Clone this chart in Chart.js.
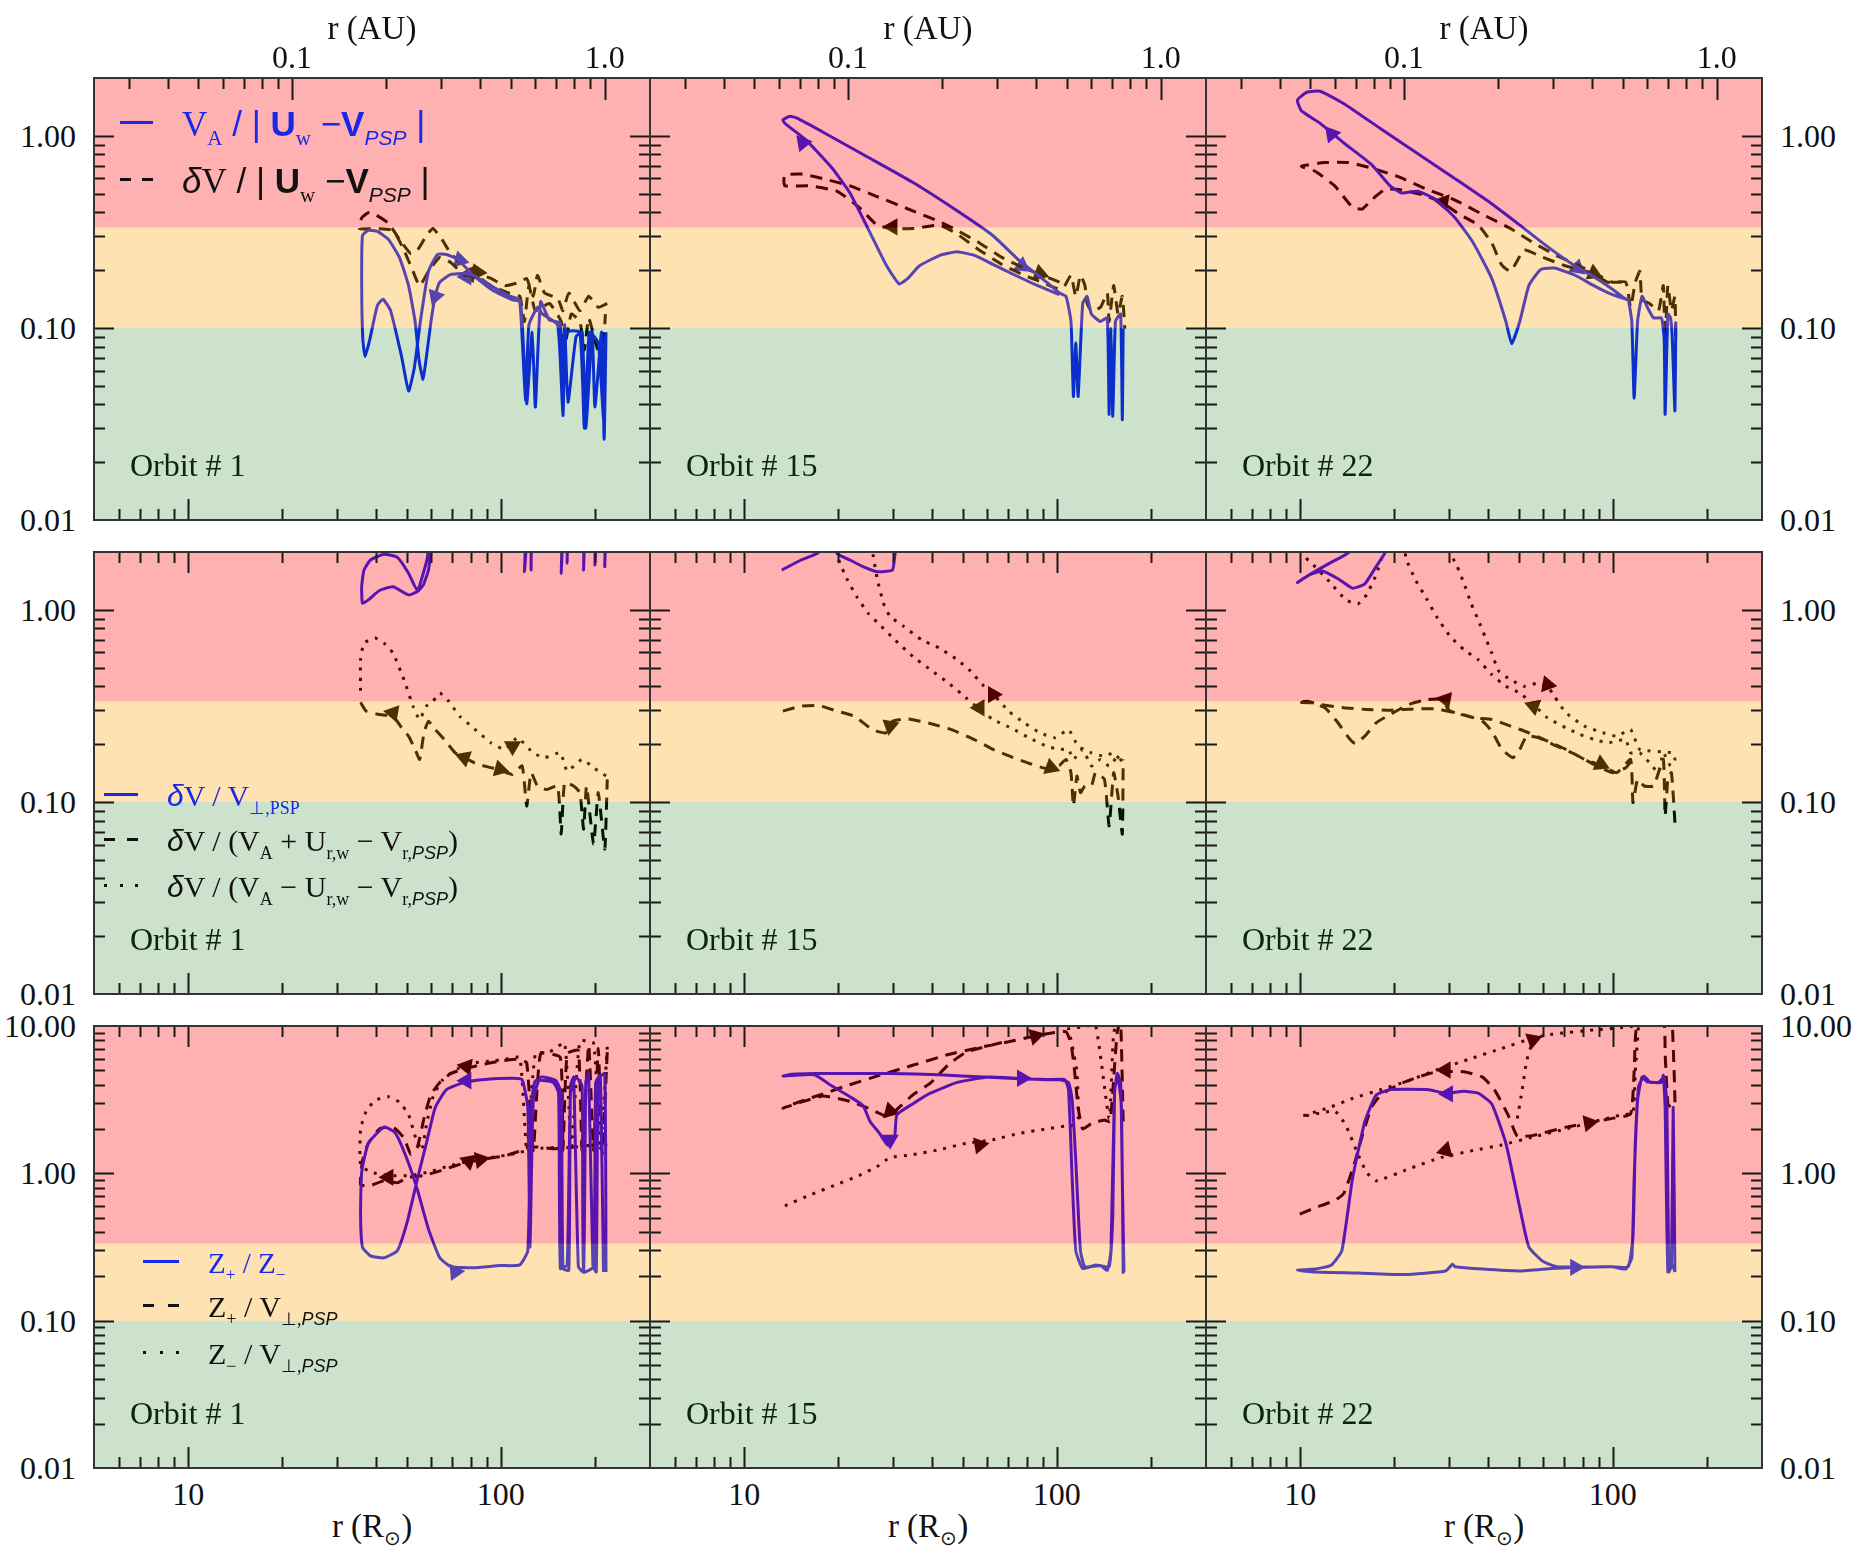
<!DOCTYPE html>
<html lang="en">
<head>
<meta charset="utf-8">
<title>PSP orbits: velocity ratios</title>
<script src="https://cdn.jsdelivr.net/npm/chart.js@4.4.0/dist/chart.umd.min.js"></script>
<style>
  html, body { margin: 0; padding: 0; background: #fff; }
  #page { position: relative; width: 1875px; height: 1563px; overflow: hidden; }
  #page canvas { position: absolute; }
  .lbl { position: absolute; white-space: nowrap; font-family: "Liberation Serif", serif; font-size: 32px; color: #111; line-height: 1; }
  .ss { font-family: "Liberation Sans", "DejaVu Sans", sans-serif; }
  sub { font-size: 0.6em; vertical-align: -0.45em; line-height: 0; }
  .sw { position: absolute; }
</style>
</head>
<body>
<div id="page"></div>
<script>
// ---------- data : [r (R_sun), ratio] ----------
// Row 1 : V_A/|U_w - V_PSP| (solid) and dV/|U_w - V_PSP| (dashed)
const orb1VaRatio = [[217,0.095],[214,0.0263],[210,0.095],[200,0.0387],[196,0.095],[187,0.030],[182,0.095],[174,0.090],[164,0.041],[160,0.104],[158,0.035],[155,0.106],[143,0.110],[134,0.137],[129,0.0387],[126,0.095],[121,0.0403],[117,0.108],[115,0.140],[106,0.147],[93,0.166],[81.6,0.188],[76.4,0.192],[69.2,0.190],[63.8,0.173],[61.7,0.146],[59.8,0.108],[57.8,0.0704],[56.4,0.0541],[54.8,0.0675],[53.2,0.108],[50.7,0.166],[47.4,0.233],[43.7,0.289],[40.3,0.318],[37.7,0.322],[36.1,0.302],[35.9,0.166],[36.2,0.087],[36.8,0.071],[38.1,0.087],[40.3,0.131],[42.0,0.141],[44.4,0.123],[48.2,0.0704],[50.7,0.0469],[52.9,0.062],[55.3,0.108],[58.7,0.197],[62.7,0.241],[67.0,0.241],[72.7,0.228],[81.6,0.188],[93.0,0.159],[109,0.140],[115,0.137],[120,0.0421],[123,0.1035],[131,0.128],[136,0.118],[152,0.1035],[158,0.035],[162,0.095],[179,0.095],[185,0.030],[192,0.095],[205,0.0835],[213,0.034],[216,0.091]];
const orb1DvRatio = [[219,0.134],[205,0.128],[191,0.146],[179,0.123],[165,0.152],[158,0.123],[152,0.1426],[138,0.152],[131,0.188],[127,0.146],[121,0.181],[115,0.173],[103,0.166],[93.0,0.181],[84.3,0.192],[76.4,0.210],[69.2,0.244],[64.8,0.289],[60.7,0.329],[57.8,0.302],[54.1,0.254],[51.5,0.244],[47.4,0.289],[43.7,0.351],[39.6,0.390],[37.7,0.398],[35.9,0.374],[35.3,0.329],[39.6,0.329],[45.2,0.322],[49.0,0.254],[52.4,0.197],[55.0,0.166],[58.7,0.197],[63.8,0.233],[69.2,0.219],[76.4,0.188],[84.3,0.1845],[93.0,0.166],[106,0.152],[115,0.146],[119,0.108],[123,0.166],[129,0.123],[143,0.134],[156,0.108],[160,0.080],[168,0.118],[179,0.108],[185,0.0767],[191,0.1127],[201,0.0835],[211,0.0675],[216,0.118]];
const orb15VaRatio = [[102,0.149],[86.8,0.166],[73.6,0.188],[62.5,0.214],[54.8,0.238],[48.0,0.249],[42.1,0.238],[36.3,0.210],[33.4,0.181],[31.3,0.1694],[28.4,0.214],[24.9,0.329],[21.8,0.504],[19.1,0.680],[15.7,0.958],[13.5,1.161],[13.3,1.212],[14.0,1.265],[14.7,1.239],[17.9,1.044],[24.9,0.774],[34.6,0.573],[48.0,0.407],[62.5,0.302],[76.0,0.2236],[82.6,0.201],[92.7,0.173],[102,0.152],[107,0.146],[111,0.108],[113,0.044],[115,0.0835],[117,0.044],[121,0.134],[125,0.146],[129,0.118],[138,0.108],[145,0.1127],[147,0.0355],[149,0.0991],[151,0.0347],[154,0.108],[160,0.118],[162,0.0333],[163,0.0991]];
const orb15DvRatio = [[102,0.173],[89.7,0.188],[78.6,0.205],[66.7,0.233],[56.6,0.277],[48.0,0.322],[42.1,0.358],[34.6,0.407],[26.6,0.483],[21.8,0.549],[17.9,0.598],[15.2,0.633],[13.5,0.625],[13.4,0.586],[13.5,0.549],[16.2,0.549],[19.8,0.515],[23.3,0.425],[26.6,0.343],[29.8,0.329],[34.6,0.329],[42.1,0.343],[48.0,0.308],[56.6,0.254],[66.7,0.214],[78.6,0.188],[89.7,0.173],[102,0.159],[106,0.166],[111,0.188],[115,0.146],[119,0.188],[123,0.166],[125,0.134],[129,0.123],[138,0.128],[145,0.152],[147,0.108],[152,0.166],[157,0.118],[162,0.146],[165,0.0991]];
const orb22VaRatio = [[112,0.140],[99.7,0.149],[86.9,0.166],[75.8,0.188],[65.0,0.205],[58.7,0.201],[53.9,0.166],[50.4,0.108],[47.5,0.0828],[45.5,0.108],[41.0,0.181],[35.8,0.277],[31.3,0.374],[27.3,0.463],[23.8,0.515],[21.1,0.504],[19.4,0.549],[16.9,0.710],[13.8,0.918],[11.6,1.161],[10.1,1.349],[9.80,1.534],[10.5,1.686],[11.6,1.707],[13.8,1.470],[18.1,1.089],[23.8,0.807],[31.3,0.598],[41.0,0.443],[50.4,0.343],[61.8,0.265],[75.8,0.210],[86.9,0.1845],[99.7,0.159],[109,0.1426],[112,0.140],[115,0.108],[117,0.043],[120,0.108],[124,0.146],[129,0.128],[135,0.1127],[143,0.1127],[146,0.0872],[147,0.0355],[150,0.118],[153,0.1127],[155,0.0872],[158,0.037],[159,0.108]];
const orb22DvRatio = [[107,0.173],[99.7,0.173],[89.9,0.188],[78.5,0.210],[66.2,0.238],[55.8,0.277],[47.1,0.329],[38.3,0.390],[31.3,0.463],[25.5,0.526],[20.7,0.611],[16.9,0.680],[14.3,0.726],[12.0,0.726],[10.1,0.695],[11.2,0.652],[12.9,0.549],[14.7,0.425],[15.8,0.416],[16.9,0.463],[18.7,0.526],[20.7,0.526],[24.6,0.494],[28.2,0.453],[32.3,0.390],[37.1,0.343],[41.0,0.277],[44.0,0.214],[47.1,0.197],[52.1,0.254],[59.7,0.233],[70.8,0.210],[86.9,0.192],[96.3,0.173],[110,0.173],[114,0.128],[118,0.173],[122,0.197],[124,0.140],[131,0.134],[140,0.123],[145,0.166],[147,0.0872],[150,0.166],[154,0.123],[158,0.146],[159,0.0835]];

// Row 2 : dV/V_perp (solid), dV/(V_A+U-V) (dashed), dV/(V_A-U-V) (dotted)
const orb1DvPerp = [[61.1,2.6],[58.7,1.61],[56.5,1.348],[54.1,1.245],[50.7,1.196],[45.2,1.32],[40.9,1.26],[37.7,1.127],[36.1,1.083],[35.9,1.32],[36.5,1.61],[38.3,1.817],[42.3,1.945],[46.7,1.876],[50.7,1.55],[54.1,1.26],[56.5,1.55],[58.3,1.89],[59.7,2.6],[119,3],[119,1.58],[121,3],[125,3],[125,1.61],[127,3],[156,3],[156,1.55],[158,3],[163,3],[163,1.75],[165,3],[184,3],[184,1.61],[186,3],[200,3],[200,1.71],[202,3],[215,3],[215,1.68],[217,3]];
const orb1DvPlus = [[35.6,0.330],[37.1,0.297],[40.9,0.285],[45.2,0.2795],[48.2,0.243],[50.7,0.220],[53.2,0.1876],[55.0,0.1665],[56.8,0.229],[58.7,0.263],[61.7,0.238],[65.9,0.2115],[71.5,0.180],[76.4,0.170],[84.3,0.157],[93.0,0.1508],[101,0.1449],[109,0.139],[117,0.1538],[121,0.0953],[125,0.142],[131,0.121],[140,0.116],[152,0.121],[156,0.068],[160,0.126],[171,0.121],[179,0.1118],[184,0.0721],[188,0.121],[198,0.0603],[205,0.1118],[215,0.0568],[219,0.131]];
const orb1DvMinus = [[217,0.1364],[198,0.1508],[182,0.1665],[163,0.1449],[155,0.180],[138,0.170],[127,0.180],[113,0.216],[103,0.1876],[93.0,0.203],[81.6,0.243],[73.9,0.2795],[68.1,0.334],[63.8,0.369],[60.7,0.334],[57.8,0.315],[55.0,0.2685],[52.4,0.315],[49.0,0.433],[45.2,0.596],[42.3,0.671],[39.6,0.713],[36.5,0.671],[35.6,0.550],[35.6,0.369]];
const orb15DvPerp = [[13.2,1.61],[15.2,1.817],[17.3,1.99],[18.5,2.6],[19.4,2.6],[19.8,1.97],[21.8,1.817],[24.0,1.68],[26.6,1.58],[29.8,1.61],[30.3,1.89],[31.1,2.6]];
const orb15DvPlus = [[13.3,0.297],[15.2,0.315],[17.3,0.3175],[19.8,0.297],[22.5,0.2795],[25.7,0.238],[28.4,0.229],[29.8,0.263],[33.4,0.2707],[39.4,0.256],[46.5,0.2365],[54.8,0.21],[62.5,0.1876],[71.3,0.172],[81.3,0.159],[92.7,0.149],[102,0.155],[107,0.1665],[111,0.142],[113,0.0953],[116,0.1364],[119,0.1118],[123,0.121],[129,0.121],[133,0.142],[142,0.131],[147,0.075],[152,0.142],[157,0.107],[162,0.068],[163,0.1665]];
const orb15DvMinus = [[19.6,2.6],[20.1,1.817],[21.4,1.43],[22.9,1.173],[24.9,0.961],[27.5,0.819],[30.3,0.699],[34.6,0.573],[39.4,0.488],[45.0,0.416],[51.3,0.348],[56.6,0.303],[62.5,0.2685],[71.3,0.243],[81.3,0.216],[92.7,0.195],[102,0.1876],[109,0.1876],[113,0.1665],[121,0.1876],[129,0.1538],[138,0.1665],[147,0.1538],[157,0.173],[162,0.160],[152,0.180],[142,0.173],[129,0.180],[117,0.195],[109,0.238],[99.0,0.216],[88.3,0.229],[78.6,0.258],[70.1,0.297],[63.5,0.355],[58.5,0.400],[53.0,0.479],[48.0,0.550],[42.1,0.632],[36.9,0.699],[32.4,0.819],[29.3,0.923],[27.9,1.083],[26.7,1.43],[25.9,1.89],[25.3,2.6]];
const orb22DvPerp = [[15.5,2.6],[14.3,1.99],[12.4,1.746],[10.9,1.55],[9.80,1.386],[10.7,1.52],[11.8,1.594],[13.3,1.443],[14.7,1.296],[16.1,1.365],[17.5,1.68],[18.7,1.99],[19.4,2.6]];
const orb22DvPlus = [[158,0.0781],[154,0.142],[150,0.131],[147,0.0846],[145,0.1665],[135,0.121],[126,0.121],[120,0.131],[116,0.0992],[114,0.1665],[103,0.142],[93.1,0.1538],[81.2,0.1665],[70.8,0.1876],[61.8,0.207],[53.9,0.229],[47.1,0.248],[41.0,0.2685],[35.8,0.274],[31.3,0.291],[27.3,0.305],[23.0,0.305],[19.4,0.300],[16.3,0.303],[13.8,0.309],[11.6,0.321],[10.5,0.334],[9.80,0.330],[10.9,0.328],[12.0,0.309],[13.1,0.263],[14.3,0.216],[15.0,0.2016],[16.1,0.220],[17.5,0.258],[19.4,0.285],[22.2,0.321],[25.5,0.341],[28.2,0.341],[30.2,0.297],[34.6,0.2795],[38.3,0.263],[41.0,0.2335],[44.2,0.1876],[47.9,0.170],[50.4,0.1876],[53.0,0.220],[57.7,0.216],[66.2,0.195],[75.8,0.177],[86.9,0.157],[99.7,0.142],[110,0.1508],[116,0.1665]];
const orb22DvMinus = [[9.97,2.6],[10.1,1.97],[10.9,1.746],[12.4,1.403],[14.0,1.127],[15.3,1.074],[16.3,1.196],[17.5,1.52],[18.4,1.97],[19.1,2.6],[21.3,2.6],[21.8,1.855],[23.4,1.43],[25.5,1.127],[27.3,0.923],[30.2,0.727],[33.4,0.620],[37.1,0.550],[41.0,0.460],[45.5,0.400],[50.4,0.369],[55.8,0.321],[61.8,0.274],[70.8,0.243],[78.5,0.2245],[86.9,0.2115],[96.3,0.203],[103,0.207],[110,0.2115],[114,0.180],[122,0.180],[131,0.160],[140,0.142],[145,0.180],[153,0.1538],[158,0.1665],[155,0.180],[122,0.1876],[114,0.238],[103,0.220],[93.1,0.229],[81.2,0.248],[70.8,0.291],[65.0,0.355],[61.8,0.400],[57.7,0.416],[52.1,0.400],[47.1,0.433],[43.2,0.479],[41.0,0.596],[39.0,0.727],[37.1,0.887],[35.2,1.083],[33.4,1.375],[31.8,1.68],[30.7,1.89],[30.2,2.6]];

// Row 3 : Z+/Z- (solid), Z+/V_perp (dashed), Z-/V_perp (dotted)
const orb1ZpZm = [[217,0.214],[215,4.76],[205,4.37],[202,0.214],[197,0.239],[191,4.76],[187,4.14],[184,0.214],[177,0.2325],[171,4.50],[167,3.91],[165,0.2198],[158,0.226],[156,3.50],[150,4.25],[134,4.50],[127,3.13],[124,0.316],[122,2.80],[117,4.32],[109,4.42],[87.1,4.32],[76.4,4.14],[67.0,3.70],[61.7,2.80],[57.8,1.60],[54.1,0.915],[50.2,0.468],[46.7,0.299],[42.3,0.267],[38.3,0.275],[36.1,0.316],[35.6,0.523],[35.9,1.02],[37.7,1.60],[42.3,2.06],[45.9,1.89],[49.9,1.28],[54.1,0.773],[58.7,0.418],[63.8,0.267],[69.2,0.2325],[81.6,0.2286],[99.3,0.2365],[115,0.239],[122,0.299],[125,2.80],[129,4.25],[147,4.14],[153,3.50],[155,0.226],[163,0.239],[167,3.50],[174,4.50],[182,3.91],[184,0.214],[198,0.2325],[201,4.14],[208,4.62],[213,0.214]];
const orb1ZpPerp = [[219,6.65],[211,1.35],[205,7.03],[198,1.43],[191,7.43],[182,1.43],[177,6.84],[163,6.47],[158,1.43],[155,6.11],[134,6.47],[127,1.43],[121,5.62],[113,5.94],[99.3,5.78],[87.1,5.47],[77.6,5.17],[69.2,4.76],[63.8,4.14],[59.7,3.40],[56.8,2.36],[54.1,1.51],[51.5,1.35],[49.0,1.74],[45.2,2.06],[40.9,2.00],[37.7,1.60],[36.1,1.21],[35.6,0.841],[37.7,0.818],[42.3,0.889],[46.7,0.865],[50.7,0.94],[56.8,0.967],[64.8,1.05],[76.4,1.176],[90.0,1.257],[103,1.315],[117,1.43],[129,1.51],[147,1.47],[174,1.51],[198,1.555],[219,1.555]];
const orb1ZmPerp = [[219,7.23],[208,1.43],[198,7.65],[179,7.87],[168,1.51],[160,7.65],[143,6.65],[129,6.47],[121,1.43],[115,6.11],[103,5.94],[93.0,5.78],[81.6,5.62],[71.5,5.03],[64.8,4.25],[60.7,3.31],[57.8,2.12],[55.9,1.43],[53.2,1.79],[50.7,2.50],[47.4,3.04],[43.7,3.31],[39.6,3.13],[37.1,2.64],[35.6,2.00],[35.6,1.14],[38.3,1.02],[43.7,0.967],[51.5,0.967],[58.7,1.02],[67.0,1.11],[78.9,1.21],[93.0,1.28],[109,1.35],[129,1.47],[157,1.51],[179,1.555],[205,1.555],[219,1.60]];
const orb15ZpZm = [[163,0.208],[161,2.80],[157,4.50],[153,3.70],[149,0.299],[145,0.2198],[138,0.2365],[123,0.2325],[119,0.299],[115,1.21],[112,3.13],[109,4.14],[102,4.32],[81.3,4.37],[60.4,4.50],[48.0,4.14],[39.4,3.50],[34.6,2.96],[30.8,2.50],[30.3,1.79],[28.8,1.555],[27.0,1.89],[25.3,2.24],[24.0,2.88],[21.8,3.31],[19.1,3.91],[16.8,4.67],[14.2,4.62],[13.3,4.57],[14.2,4.70],[16.8,4.76],[21.8,4.76],[29.3,4.76],[42.1,4.67],[58.5,4.50],[78.6,4.37],[92.7,4.32],[106,4.32],[109,3.70],[112,0.915],[115,0.299],[121,0.226],[133,0.239],[147,0.2325],[151,0.523],[153,3.50],[156,4.76],[160,4.14],[162,0.915],[164,0.214]];
const orb15ZpPerp = [[66.7,7.73],[51.3,6.65],[45.0,5.47],[39.4,4.09],[34.6,3.40],[31.3,2.80],[28.8,2.43],[24.9,2.77],[21.8,3.08],[17.9,3.35],[15.2,3.04],[13.3,2.77],[15.2,3.09],[17.9,3.46],[21.1,3.91],[26.6,4.57],[34.6,5.41],[45.0,6.40],[56.6,7.15],[71.3,7.87],[85.3,8.55],[99.0,9.04],[107,9.15],[111,7.65],[114,4.89],[117,2.80],[121,2.00],[129,2.18],[142,2.30],[148,2.24],[152,4.37],[156,9.04],[160,10.6],[163,2.24]];
const orb15ZmPerp = [[13.5,0.601],[16.2,0.711],[19.8,0.841],[23.3,0.967],[26.6,1.11],[29.3,1.28],[34.6,1.337],[42.1,1.446],[51.3,1.60],[62.5,1.69],[76.0,1.87],[92.7,2.00],[106,2.09],[113,2.12],[117,2.36],[116,4.89],[111,8.09],[109,9.56],[121,9.84],[133,10.1],[147,2.36],[152,9.04],[157,10.6]];
const orb22ZpZm = [[158,0.214],[156,2.80],[154,0.239],[151,0.214],[149,2.80],[146,4.50],[140,4.14],[131,4.18],[126,4.57],[121,3.91],[118,1.60],[116,0.374],[112,0.2325],[99.7,0.2325],[86.9,0.2313],[66.2,0.2325],[59.7,0.253],[53.9,0.316],[50.4,0.585],[45.5,1.60],[41.0,2.96],[37.1,3.50],[33.4,3.60],[29.2,3.50],[25.5,3.70],[19.4,3.70],[17.5,3.40],[16.1,2.24],[14.7,0.915],[13.6,0.299],[12.6,0.239],[11.2,0.224],[9.80,0.2198],[11.2,0.2138],[15.3,0.2104],[21.5,0.2056],[29.2,0.2175],[30.7,0.2416],[31.3,0.2325],[38.3,0.224],[50.4,0.2175],[64.0,0.226],[75.8,0.230],[99.7,0.2325],[110,0.224],[115,0.267],[117,0.915],[120,3.13],[124,4.50],[129,4.18],[143,4.14],[145,4.62],[147,2.80],[150,0.214],[155,0.239],[158,0.214]];
const orb22ZpPerp = [[9.97,0.529],[11.2,0.585],[12.9,0.654],[13.8,0.731],[15.0,1.21],[15.8,1.79],[16.9,2.80],[18.1,3.40],[20.7,4.02],[23.8,4.50],[27.3,4.89],[33.4,4.89],[38.3,4.50],[41.8,3.70],[46.2,2.50],[49.5,1.79],[55.8,1.81],[70.8,2.06],[83.9,2.20],[99.7,2.36],[114,2.53],[117,4.89],[120,10.6],[145,10.6],[147,6.47],[150,2.96],[154,2.80],[158,2.96],[155,10.6]];
const orb22ZmPerp = [[124,10.6],[114,9.89],[86.9,9.40],[64.0,8.79],[55.8,8.31],[44.0,7.03],[34.6,5.94],[27.3,5.03],[22.2,4.25],[18.1,3.70],[14.7,3.22],[12.4,2.80],[10.1,2.43],[12.9,2.64],[14.0,2.12],[15.3,1.35],[16.3,1.02],[17.5,0.889],[22.2,1.07],[28.2,1.28],[35.8,1.43],[44.0,1.555],[55.8,1.77],[70.8,2.00],[86.9,2.24],[107,2.50],[116,2.57],[118,4.89],[121,10.6]];
const orb22ZmBranch = [[49.5,2.36],[51.3,3.70],[53.0,5.78],[55.5,8.0]];

// direction arrows : [r, ratio, rotation deg, 'b' blue | 'k' black]
const orb1Row1Arrows = [[74.0,0.2255,105,'b'],[77.6,0.1845,270,'b'],[61.7,0.146,200,'b'],[84.3,0.195,95,'k'],[79.0,0.19,270,'k']];
const orb15Row1Arrows = [[15.4,0.918,320,'b'],[77.4,0.210,125,'b'],[29.8,0.336,270,'k'],[88.3,0.192,110,'k']];
const orb22Row1Arrows = [[12.6,1.022,320,'b'],[77.1,0.205,130,'b'],[28.7,0.453,280,'k'],[86.9,0.192,115,'k']];
const orb1Row2Arrows = [[45.2,0.291,160,'k'],[76.4,0.170,290,'k'],[99.3,0.148,105,'k'],[109,0.195,300,'k']];
const orb15Row2Arrows = [[29.3,0.249,190,'k'],[95.7,0.1508,110,'k'],[56.6,0.309,150,'k'],[62.5,0.362,330,'k']];
const orb22Row2Arrows = [[29.2,0.341,280,'k'],[91.5,0.157,115,'k'],[55.8,0.315,170,'k'],[61.8,0.408,340,'k']];
const orb1Row3Arrows = [[77.6,4.25,270,'b'],[71.5,0.214,85,'b'],[77.6,5.32,280,'k'],[43.7,0.94,150,'k'],[78.9,1.21,290,'k'],[86.0,1.24,80,'k']];
const orb15Row3Arrows = [[77.4,4.42,90,'b'],[29.3,1.69,180,'b'],[85.3,8.55,75,'k'],[29.3,2.64,225,'k'],[56.6,1.555,80,'k']];
const orb22Row3Arrows = [[29.7,3.46,270,'b'],[75.8,0.230,90,'b'],[29.2,5.03,270,'k'],[55.5,8.05,70,'k'],[83.9,2.20,80,'k'],[29.2,1.43,255,'k']];

const bandEdges = [0.01, 0.1, 1/3, 100];      // green / orange / red
const yTickVals = [0.01, 0.1, 1, 10];
const rTickVals = [10, 100];
const auTickVals = [0.1, 1.0];
const RSUN_PER_AU = 215;
const R_MIN = 5, R_MAX = 300;
const orbitNames = ['Orbit # 1', 'Orbit # 15', 'Orbit # 22'];

// ---------- layout ----------
const COLS = [94, 650, 1206];
const ROWS = [78, 552, 1026];
const PW = 556, PH = 442, PAD = 4;
const bandColors = ['rgba(0,112,0,0.2)', 'rgba(255,160,0,0.30)', 'rgba(255,0,0,0.31)'];
const BLUE = 'rgb(15,30,255)';
const page = document.getElementById('page');

const panels = [
  {row:0, col:0, ymax:2,  curves:[[orb1VaRatio,'solid'],[orb1DvRatio,'dash']], arrows:orb1Row1Arrows},
  {row:0, col:1, ymax:2,  curves:[[orb15VaRatio,'solid'],[orb15DvRatio,'dash']], arrows:orb15Row1Arrows},
  {row:0, col:2, ymax:2,  curves:[[orb22VaRatio,'solid'],[orb22DvRatio,'dash']], arrows:orb22Row1Arrows},
  {row:1, col:0, ymax:2,  curves:[[orb1DvPerp,'solid'],[orb1DvPlus,'dash'],[orb1DvMinus,'dot']], arrows:orb1Row2Arrows},
  {row:1, col:1, ymax:2,  curves:[[orb15DvPerp,'solid'],[orb15DvPlus,'dash'],[orb15DvMinus,'dot']], arrows:orb15Row2Arrows},
  {row:1, col:2, ymax:2,  curves:[[orb22DvPerp,'solid'],[orb22DvPlus,'dash'],[orb22DvMinus,'dot']], arrows:orb22Row2Arrows},
  {row:2, col:0, ymax:10, curves:[[orb1ZpZm,'solid'],[orb1ZpPerp,'dash'],[orb1ZmPerp,'dot']], arrows:orb1Row3Arrows},
  {row:2, col:1, ymax:10, curves:[[orb15ZpZm,'solid'],[orb15ZpPerp,'dash'],[orb15ZmPerp,'dot']], arrows:orb15Row3Arrows},
  {row:2, col:2, ymax:10, curves:[[orb22ZpZm,'solid'],[orb22ZpPerp,'dash'],[orb22ZmPerp,'dot'],[orb22ZmBranch,'dot']], arrows:orb22Row3Arrows}
];

function logTicks(min, max) {
  const out = [];
  for (let e = Math.floor(Math.log10(min)); e <= Math.ceil(Math.log10(max)); e++) {
    for (let k = 1; k <= 9; k++) {
      const v = k * Math.pow(10, e);
      if (v > min * 1.001 && v < max * 0.999) out.push({v: v, major: k === 1});
    }
  }
  return out;
}

// bands over the curves, then ticks and frame
const framePlugin = {
  id: 'frame',
  afterDatasetsDraw(chart, args, opts) {
    const ctx = chart.ctx, a = chart.chartArea, x = chart.scales.x, y = chart.scales.y;
    ctx.save();
    for (let i = 0; i < 3; i++) {
      const top = y.getPixelForValue(Math.min(bandEdges[i + 1], y.max));
      const bot = y.getPixelForValue(bandEdges[i]);
      ctx.fillStyle = bandColors[i];
      ctx.fillRect(a.left, top, a.right - a.left, bot - top);
    }
    ctx.strokeStyle = '#1a1a1a';
    ctx.lineWidth = 2;
    ctx.beginPath();
    for (const t of logTicks(y.min, y.max)) {
      const py = Math.round(y.getPixelForValue(t.v)) + 0.5;
      const len = t.major ? 20 : 11;
      ctx.moveTo(a.left, py); ctx.lineTo(a.left + len, py);
      ctx.moveTo(a.right, py); ctx.lineTo(a.right - len, py);
    }
    for (const t of logTicks(x.min, x.max)) {
      const px = Math.round(x.getPixelForValue(t.v)) + 0.5;
      const len = t.major ? 21 : 11;
      ctx.moveTo(px, a.bottom); ctx.lineTo(px, a.bottom - len);
      if (!opts.auTop) { ctx.moveTo(px, a.top); ctx.lineTo(px, a.top + len); }
    }
    if (opts.auTop) {
      for (const t of logTicks(x.min / RSUN_PER_AU, x.max / RSUN_PER_AU)) {
        const px = Math.round(x.getPixelForValue(t.v * RSUN_PER_AU)) + 0.5;
        const len = t.major ? 22 : 11;
        ctx.moveTo(px, a.top); ctx.lineTo(px, a.top + len);
      }
    }
    ctx.stroke();
    ctx.strokeStyle = '#333';
    ctx.strokeRect(a.left, a.top, a.right - a.left, a.bottom - a.top);
    ctx.restore();
  }
};

function addText(html, x, y, cls, align, color, size) {
  const d = document.createElement('div');
  d.className = 'lbl' + (cls ? ' ' + cls : '');
  d.innerHTML = html;
  d.style.left = x + 'px';
  d.style.top = y + 'px';
  if (color) d.style.color = color;
  if (size) d.style.fontSize = size + 'px';
  const tx = align === 'right' ? '-100%' : (align === 'left' ? '0' : '-50%');
  d.style.transform = 'translate(' + tx + ',-50%)';
  page.appendChild(d);
}

function toXY(pts) { return pts.map(p => ({x: p[0], y: p[1]})); }

for (const p of panels) {
  const left = COLS[p.col], top = ROWS[p.row];
  const cv = document.createElement('canvas');
  cv.width = PW + 2 * PAD; cv.height = PH + 2 * PAD;
  cv.style.left = (left - PAD) + 'px'; cv.style.top = (top - PAD) + 'px';
  page.appendChild(cv);

  const datasets = p.curves.map(([pts, kind]) => ({
    data: toXY(pts),
    showLine: true,
    borderColor: kind === 'solid' ? BLUE : '#000',
    borderWidth: 3,
    borderDash: kind === 'dash' ? [12, 8] : (kind === 'dot' ? [3, 7] : []),
    borderCapStyle: 'butt',
    tension: 0.15,
    pointRadius: 0,
    clip: 0
  }));
  for (const c of ['b', 'k']) {
    const arr = p.arrows.filter(a => a[3] === c);
    if (!arr.length) continue;
    datasets.push({
      data: arr.map(a => ({x: a[0], y: a[1]})),
      showLine: false,
      pointStyle: 'triangle',
      pointRadius: 10,
      pointRotation: arr.map(a => a[2]),
      pointBackgroundColor: c === 'b' ? BLUE : '#000',
      pointBorderWidth: 0,
      clip: 0
    });
  }

  const chart = new Chart(cv, {
    type: 'scatter',
    data: {datasets: datasets},
    options: {
      responsive: false,
      animation: false,
      events: [],
      layout: {padding: PAD, autoPadding: false},
      scales: {
        x: {type: 'logarithmic', min: R_MIN, max: R_MAX, display: false},
        y: {type: 'logarithmic', min: 0.01, max: p.ymax, display: false}
      },
      plugins: {legend: {display: false}, tooltip: {enabled: false}, frame: {auTop: p.row === 0}}
    },
    plugins: [framePlugin]
  });

  const xs = chart.scales.x, ys = chart.scales.y;
  const ox = left - PAD, oy = top - PAD;
  // y tick labels
  if (p.col !== 1) {
    for (const v of yTickVals) {
      if (v > p.ymax) continue;
      const py = oy + ys.getPixelForValue(v);
      if (p.col === 0) addText(v.toFixed(2), 76, py, '', 'right');
      else addText(v.toFixed(2), 1780, py, '', 'left');
    }
  }
  if (p.row === 0) {
    for (const v of auTickVals) addText(v.toFixed(1), ox + xs.getPixelForValue(v * RSUN_PER_AU), 57, '', 'center');
    addText('r (AU)', left + PW / 2, 28, '', 'center', null, 33);
  }
  if (p.row === 2) {
    for (const v of rTickVals) addText(String(v), ox + xs.getPixelForValue(v), 1494, '', 'center');
    addText('r (R<sub>&#8857;</sub>)', left + PW / 2, 1526, '', 'center', null, 33);
  }
  addText(orbitNames[p.col], left + 36, top + PH - 55, '', 'left', '#0b2410', 32);
}

// ---------- legends ----------
function sample(kind, x, y, w, color) {
  const seg = (sx, sw) => {
    const d = document.createElement('div');
    d.className = 'sw';
    d.style.left = sx + 'px'; d.style.top = (y - 1.5) + 'px';
    d.style.width = sw + 'px'; d.style.height = '3px';
    d.style.background = color;
    page.appendChild(d);
  };
  if (kind === 'solid') seg(x, w);
  else if (kind === 'dash') { seg(x, 11); seg(x + w - 11, 11); }
  else { seg(x, 3); seg(x + w / 2 - 1.5, 3); seg(x + w - 3, 3); }
}
const LB = 'rgb(25,40,232)';
const psp = '<i class="ss">PSP</i>';
const uw = '<span class="ss">| <b>U</b></span><sub>w</sub><span class="ss"> &#8722;<b>V</b></span><sub>' + psp + '</sub><span class="ss"> |</span>';

sample('solid', 120, 122, 33, LB);
addText('V<sub>A</sub><span class="ss"> / </span>' + uw, 182, 124, '', 'left', LB, 35);
sample('dash', 120, 179, 33, '#111');
addText('<i class="ss">&#948;</i>V<span class="ss"> / </span>' + uw, 182, 181, '', 'left', '#111', 35);

sample('solid', 104, 794, 34, LB);
addText('<i class="ss">&#948;</i>V / V<sub>&#8869;,PSP</sub>', 167, 796, '', 'left', LB, 30);
sample('dash', 104, 839, 34, '#111');
addText('<i class="ss">&#948;</i>V / (V<sub>A</sub> + U<sub>r,w</sub> &#8722; V<sub>r,' + psp + '</sub>)', 167, 841, '', 'left', '#111', 30);
sample('dot', 104, 885, 34, '#111');
addText('<i class="ss">&#948;</i>V / (V<sub>A</sub> &#8722; U<sub>r,w</sub> &#8722; V<sub>r,' + psp + '</sub>)', 167, 887, '', 'left', '#111', 30);

sample('solid', 143, 1261, 36, LB);
addText('Z<sub>+</sub> / Z<sub>&#8722;</sub>', 208, 1263, '', 'left', LB, 29);
sample('dash', 143, 1305, 36, '#111');
addText('Z<sub>+</sub> / V<sub>&#8869;,' + psp + '</sub>', 208, 1307, '', 'left', '#111', 30);
sample('dot', 143, 1352, 36, '#111');
addText('Z<sub>&#8722;</sub> / V<sub>&#8869;,' + psp + '</sub>', 208, 1354, '', 'left', '#111', 30);
</script>
</body>
</html>
